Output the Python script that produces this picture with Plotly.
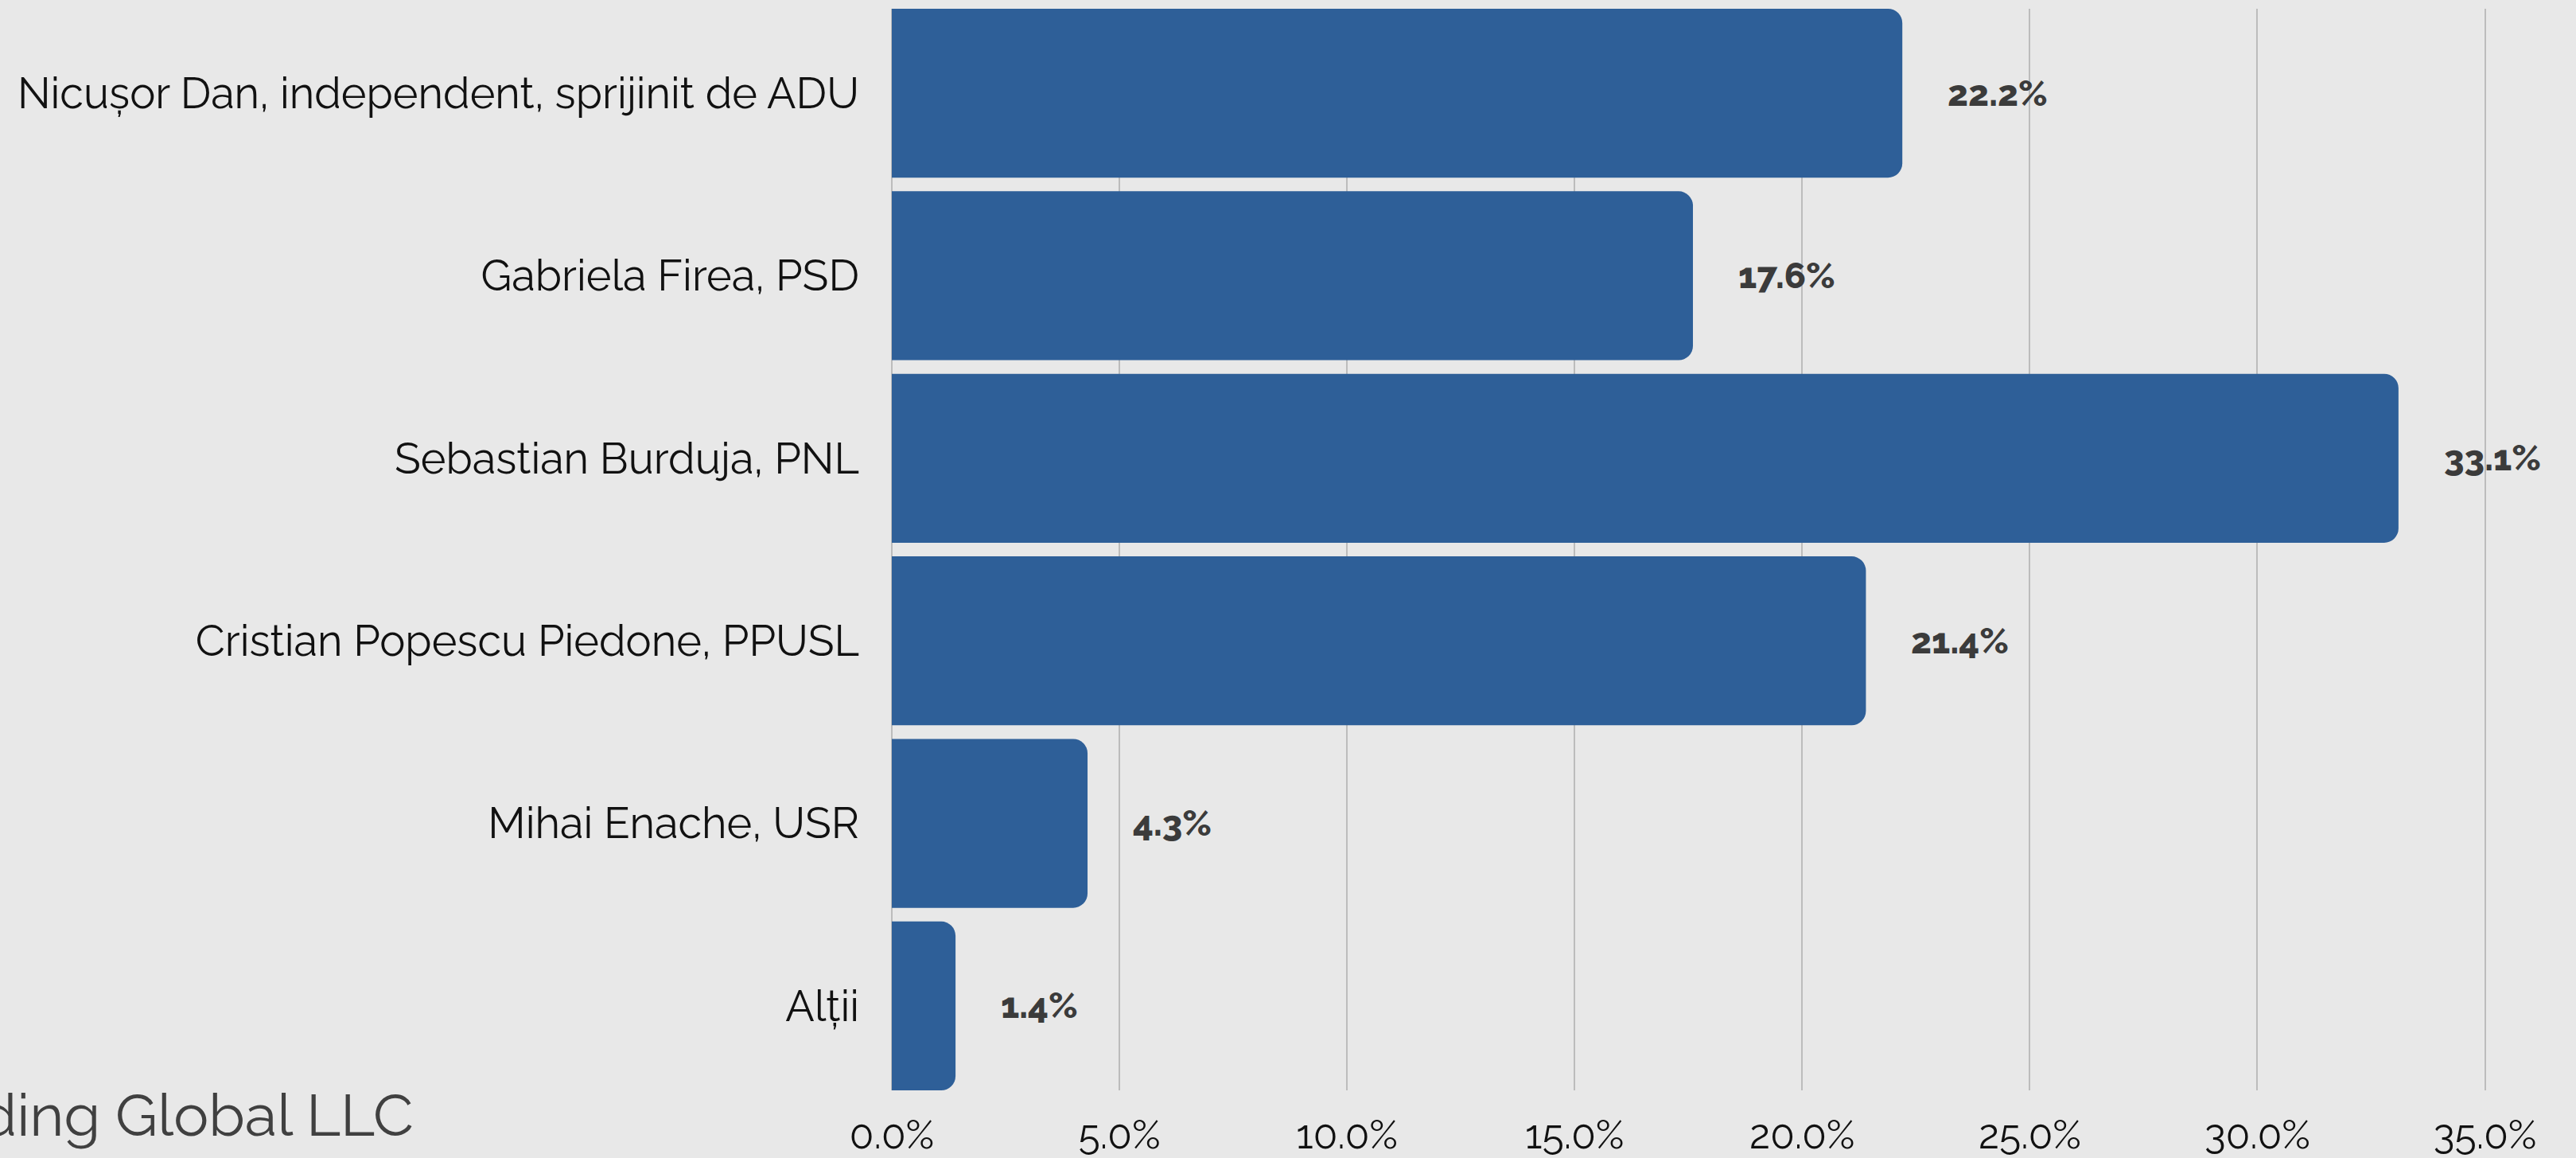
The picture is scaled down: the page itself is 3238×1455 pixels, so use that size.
import plotly.graph_objects as go

candidates = [
    "Nicușor Dan, independent, sprijinit de ADU",
    "Gabriela Firea, PSD",
    "Sebastian Burduja, PNL",
    "Cristian Popescu Piedone, PPUSL",
    "Mihai Enache, USR",
    "Alții",
]
values = [22.2, 17.6, 33.1, 21.4, 4.3, 1.4]
value_labels = ["22.2%", "17.6%", "33.1%", "21.4%", "4.3%", "1.4%"]
tick_vals = [0, 5, 10, 15, 20, 25, 30, 35]
tick_text = ["0.0%", "5.0%", "10.0%", "15.0%", "20.0%", "25.0%", "30.0%", "35.0%"]
watermark = "Holding Global LLC"

FONT = "Raleway, Lato, sans-serif"
BAR = "#2e5f98"
BG = "#e8e8e8"

W, H = 3238, 1455
gap = 0.075

fig = go.Figure(
    go.Bar(
        x=values,
        y=list(range(len(candidates))),
        orientation="h",
        marker=dict(color=BAR, line=dict(width=0)),
        hoverinfo="skip",
    )
)

for i, (v, t) in enumerate(zip(values, value_labels)):
    fig.add_annotation(
        x=v, y=i, xref="x", yref="y", text=t,
        showarrow=False, xanchor="left", yanchor="middle", xshift=55,
        font=dict(family=FONT, size=45, color="#3b3b3b", weight=800),
    )

L, R, T, B = 1121, 0, 11, 80
pw = W - L - R
fig.add_annotation(
    x=(522 - L) / pw, y=0,
    xref="paper", yref="paper", text=watermark, showarrow=False,
    xanchor="right", yanchor="middle", yshift=-(1405 - (H - B)),
    font=dict(family=FONT, size=74, color="#404040"),
)

fig.update_layout(
    width=W, height=H,
    margin=dict(l=L, r=R, t=T, b=B),
    paper_bgcolor=BG, plot_bgcolor=BG,
    bargap=gap,
    barcornerradius=18,
    showlegend=False,
    font=dict(family=FONT, color="#111111"),
)
fig.update_xaxes(
    range=[0, 37], tickvals=tick_vals, ticktext=tick_text,
    showgrid=True, gridcolor="#bcbcbc", gridwidth=2,
    zeroline=True, zerolinecolor="#bcbcbc", zerolinewidth=2,
    tickfont=dict(family=FONT, size=50, color="#111111"),
    ticks="", ticklabelstandoff=22, showline=False,
)
fig.update_yaxes(
    tickvals=list(range(len(candidates))), ticktext=candidates,
    range=[len(candidates) - 0.5 - gap / 2, -0.5 + gap / 2],
    showgrid=False, zeroline=False, showline=False, ticks="",
    tickfont=dict(family=FONT, size=54, color="#111111"),
    ticklabelstandoff=40,
)

fig.write_html(
    "out.html",
    config={"displayModeBar": False},
    post_script="document.body.style.margin='0';document.body.style.padding='0';",
)
